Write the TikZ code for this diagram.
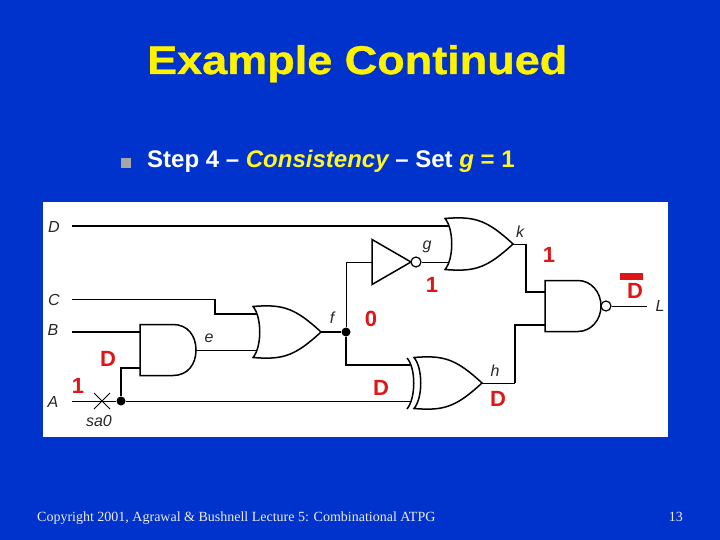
\documentclass[tikz,border=0pt]{standalone}
\usepackage{fontspec}
\setmainfont{Liberation Sans}
\newfontfamily\footfont{Liberation Serif}
\newfontfamily\titlefont{Liberation Sans}[BoldFeatures={FakeBold=1,FakeStretch=1.125}]
\definecolor{slideblue}{RGB}{0,51,204}
\definecolor{valuered}{RGB}{222,22,26}
\definecolor{wirelabel}{RGB}{40,40,40}
\tikzset{
    wire/.style={line width=1pt},
    buswire/.style={line width=1.6pt},
    gatebody/.style={line width=1.5pt, line join=miter},
    bubble/.style={circle, draw, line width=1.2pt, fill=white, inner sep=0pt, minimum size=10pt},
    netname/.style={font=\fontsize{16}{16}\selectfont\itshape, text=wirelabel, inner sep=0pt},
    logicval/.style={font=\fontsize{22}{22}\selectfont\bfseries, text=valuered, inner sep=0pt},
    junction/.style={circle, fill=black, inner sep=0pt, minimum size=9pt},
    andbody/.pic={
        \draw[gatebody] (0,-25.5) -- (33,-25.5) .. controls (48,-25.5) and (56,-14) .. (56,0)
            .. controls (56,14) and (48,25.5) .. (33,25.5) -- (0,25.5) -- cycle;
        \coordinate (-in1) at (0,-18);
        \coordinate (-in2) at (0,18);
        \coordinate (-out) at (56,0);
    },
    orbody/.pic={
        \draw[gatebody] (0,-25.5) .. controls (9,-15) and (9,15) .. (0,25.5)
            .. controls (30,28) and (42,24) .. (68,0)
            .. controls (42,-24) and (30,-28) .. (0,-25.5) -- cycle;
        \coordinate (-in1) at (4,-18);
        \coordinate (-in2) at (4,18);
        \coordinate (-out) at (68,0);
    },
    nandbody/.pic={
        \draw[gatebody] (0,-25.5) -- (33,-25.5) .. controls (46,-25.5) and (56,-14) .. (56,0)
            .. controls (56,14) and (46,25.5) .. (33,25.5) -- (0,25.5) -- cycle;
        \coordinate (-in1) at (0,-14);
        \coordinate (-in2) at (0,19);
        \coordinate (-out) at (56,0);
    },
    notbody/.pic={
        \draw[gatebody] (0,-22.5) -- (39,0) -- (0,22.5) -- cycle;
        \coordinate (-in) at (0,0);
        \coordinate (-out) at (39,0);
    },
}
\begin{document}
\begin{tikzpicture}[x=1pt, y=-1pt]
    \fill[slideblue] (0,0) rectangle (720,540);
    \useasboundingbox (0,0) rectangle (720,540);
    \fill[white] (43,202) rectangle (668,437);

    % title and step line
    \node[anchor=base west, inner sep=0pt, text=yellow, font=\titlefont\fontsize{40}{40}\selectfont\bfseries] (title) at (147,74) {Example Continued};
    \node[fill=black!35, minimum size=10pt, inner sep=0pt] (bullet) at (126,163) {};
    \node[anchor=base west, inner sep=0pt, text=white, font=\fontsize{24}{24}\selectfont\bfseries] (stepline) at (147,168) {Step 4 -- \textcolor{yellow!85!white}{\itshape Consistency} -- Set \textcolor{yellow!85!white}{\itshape g} \textcolor{yellow!85!white}{= 1}};

    % gates
    \pic (andE) at (140,350) {andbody};
    \pic (orF) at (253,332) {orbody};
    \pic (notG) at (372,262) {notbody};
    \pic (orK) at (445,244) {orbody};
    \pic (xorH) at (414,383) {orbody};
    \pic (nandL) at (545,306) {nandbody};
    \draw[gatebody] (407,358) .. controls (416,368) and (416,398) .. (407,409);
    \node[bubble] (notGb) at (416,262) {};
    \node[bubble] (nandLb) at (606,306) {};

    % inputs
    \node[netname] (D) at (54,227) {D};
    \node[netname] (C) at (54,300) {C};
    \node[netname] (B) at (53,330) {B};
    \node[netname] (A) at (53,402) {A};
    \coordinate (dstart) at (72,226);
    \coordinate (cstart) at (72,299);
    \coordinate (bstart) at (72,332);
    \coordinate (astart) at (72,401);
    \coordinate (cbend) at (215,299);

    % fanout points
    \node[junction] (afan) at (121,401) {};
    \node[junction] (ffan) at (346,332) {};

    % wires
    \draw[buswire] (dstart) -- (orK-in1);
    \draw[wire] (cstart) -- (cbend);
    \draw[buswire] (cbend) |- (orF-in1);
    \draw[buswire] (bstart) -- (andE-in1);
    \coordinate (xorin2) at (410,401);
    \coordinate (xorin1) at (410,365);
    \draw[wire] (astart) -- (afan) -- (xorin2);
    \draw[buswire] (afan) |- (andE-in2);
    \draw[wire] (andE-out) -- (orF-in2);
    \draw[buswire] (orF-out) -- (ffan);
    \draw[wire] (ffan) |- (notG-in);
    \draw[buswire] (ffan) |- (xorin1);
    \draw[wire] (notGb) -- (orK-in2);
    \coordinate (kbend) at (526,244);
    \coordinate (hbend) at (515,383);
    \draw[wire] (orK-out) -- (kbend);
    \draw[buswire] (kbend) |- (nandL-in1);
    \draw[wire] (xorH-out) -- (hbend);
    \draw[buswire] (hbend) |- (nandL-in2);
    \coordinate (lend) at (647,306);
    \draw[wire] (nandLb) -- (lend);

    % sa0 fault
    \coordinate (xa) at (94,393);
    \coordinate (xb) at (110,409);
    \coordinate (xc) at (94,409);
    \coordinate (xd) at (110,393);
    \draw[wire] (xa) -- (xb);
    \draw[wire] (xc) -- (xd);
    \node[netname] (sa) at (99,421) {sa0};

    % net names
    \node[netname] (e) at (209,338) {e};
    \node[netname] (f) at (332,318) {f};
    \node[netname] (g) at (427,247) {g};
    \node[netname] (k) at (520,232) {k};
    \node[netname] (h) at (495,371) {h};
    \node[netname] (L) at (660,306) {L};

    % logic values
    \node[logicval] (v1) at (108,359) {D};
    \node[logicval] (v2) at (78,386) {1};
    \node[logicval] (v3) at (432,285) {1};
    \node[logicval] (v4) at (549,255) {1};
    \node[logicval] (v5) at (371,319) {0};
    \node[logicval] (v6) at (381,388) {D};
    \node[logicval] (v7) at (498,399) {D};
    \node[logicval] (v8) at (635,291) {D};
    \fill[valuered] (620,273) rectangle (643,280);

    % footer
    \node[anchor=base west, inner sep=0pt, text=black!8, font=\footfont\fontsize{14}{14}\selectfont] (copy) at (37,521) {Copyright 2001, Agrawal \& Bushnell Lecture 5: Combinational ATPG};
    \node[anchor=base east, inner sep=0pt, text=black!8, font=\footfont\fontsize{14}{14}\selectfont] (page) at (683,521) {13};
\end{tikzpicture}
\end{document}
